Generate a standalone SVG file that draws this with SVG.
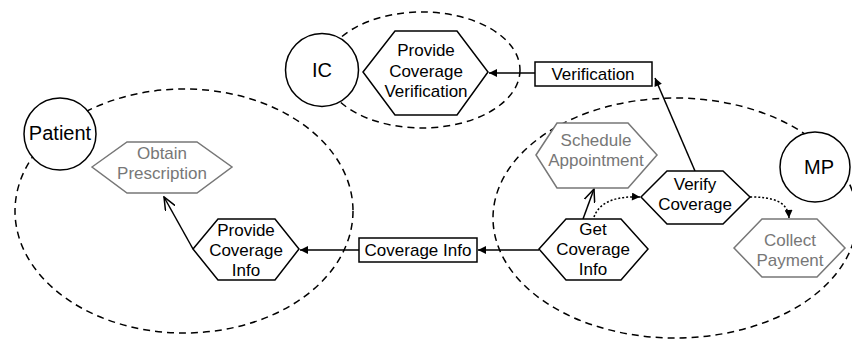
<svg xmlns="http://www.w3.org/2000/svg" width="852" height="339" viewBox="0 0 852 339">
<defs>
<style>
.bg{fill:#fff}
.scope{fill:none;stroke:#000;stroke-width:1.5;stroke-dasharray:7,5}
.actor{fill:#fff;stroke:#000;stroke-width:1.5}
.goal{fill:#fff;stroke:#000;stroke-width:1.5}
.goal.soft{stroke:#777}
.box{fill:#fff;stroke:#000;stroke-width:1.5}
text{font-family:"Liberation Sans",Arial,sans-serif;font-size:17px;fill:#000;text-anchor:middle}
.gray{fill:#777}
.big{font-size:20px}
.line{fill:none;stroke:#000;stroke-width:1.5}
.dot{fill:none;stroke:#000;stroke-width:1.5;stroke-dasharray:2,2}
</style>
<marker id="fill" viewBox="0 0 10 10" refX="10" refY="5" markerUnits="userSpaceOnUse" markerWidth="10" markerHeight="8" orient="auto">
<path d="M0,0 L10,5 L0,10 z" fill="#000"/>
</marker>
<marker id="open" viewBox="0 0 14 12" refX="13" refY="6" markerUnits="userSpaceOnUse" markerWidth="14" markerHeight="12" orient="auto">
<path d="M0,0.5 L13,6 L0,11.5" fill="none" stroke="#000" stroke-width="1.5"/>
</marker>
</defs>
<rect class="bg" x="0" y="0" width="852" height="339"/>
<g id="scopes">
<ellipse class="scope" cx="184" cy="211" rx="169" ry="122"/>
<ellipse class="scope" cx="422" cy="70" rx="98" ry="58"/>
<ellipse class="scope" cx="675" cy="218" rx="182" ry="120"/>
</g>
<g id="connectors">
<line class="line" x1="539" y1="250" x2="478" y2="250" marker-end="url(#fill)"/>
<line class="line" x1="359" y1="250" x2="300" y2="250" marker-end="url(#fill)"/>
<line class="line" x1="193" y1="249" x2="164" y2="197" marker-end="url(#open)"/>
<line class="line" x1="583" y1="219" x2="594" y2="189" marker-end="url(#open)"/>
<line class="line" x1="695" y1="171" x2="655" y2="78" marker-end="url(#fill)"/>
<line class="line" x1="535" y1="73" x2="489" y2="73" marker-end="url(#fill)"/>
<path class="dot" d="M594,217 C600,200 620,196 640,197" marker-end="url(#fill)"/>
<path class="dot" d="M750,197 C772,197 788,201 789,218" marker-end="url(#fill)"/>
</g>
<g id="patient">
<circle class="actor" cx="60" cy="134" r="36"/>
<text class="big" x="60" y="140">Patient</text>
</g>
<g id="ic">
<circle class="actor" cx="322" cy="70" r="36.5"/>
<text class="big" x="322" y="77">IC</text>
</g>
<g id="mp">
<circle class="actor" cx="815" cy="167" r="35"/>
<text class="big" x="819" y="174">MP</text>
</g>
<g id="obtain-prescription">
<polygon class="goal soft" points="92,167 127,142 197,142 232,167 197,193 127,193"/>
<text class="gray" x="162" y="159">Obtain</text>
<text class="gray" x="162" y="179">Prescription</text>
</g>
<g id="provide-coverage-info">
<polygon class="goal" points="193,249 218,219 275,219 299,249 275,280 218,280"/>
<text x="246" y="236">Provide</text>
<text x="246" y="256">Coverage</text>
<text x="246" y="276">Info</text>
</g>
<g id="provide-coverage-verification">
<polygon class="goal" points="363,72 395,31 457,31 488,72 457,115 395,115"/>
<text x="426" y="56">Provide</text>
<text x="426" y="77">Coverage</text>
<text x="426" y="97">Verification</text>
</g>
<g id="verification">
<rect class="box" x="535" y="62" width="117" height="24"/>
<text x="593" y="80">Verification</text>
</g>
<g id="coverage-info">
<rect class="box" x="359" y="238" width="118" height="24"/>
<text x="418" y="256">Coverage Info</text>
</g>
<g id="schedule-appointment">
<polygon class="goal soft" points="536,155 557,123 628,123 657,155 628,188 557,188"/>
<text class="gray" x="596" y="146">Schedule</text>
<text class="gray" x="596" y="166">Appointment</text>
</g>
<g id="verify-coverage">
<polygon class="goal" points="641,197 667,171 723,171 750,197 723,224 667,224"/>
<text x="695" y="190">Verify</text>
<text x="695" y="210">Coverage</text>
</g>
<g id="get-coverage-info">
<polygon class="goal" points="539,249 566,219 621,219 648,249 621,280 566,280"/>
<text x="593" y="235">Get</text>
<text x="593" y="255">Coverage</text>
<text x="593" y="275">Info</text>
</g>
<g id="collect-payment">
<polygon class="goal soft" points="734,248 762,219 817,219 845,248 817,277 762,277"/>
<text class="gray" x="790" y="246">Collect</text>
<text class="gray" x="790" y="266">Payment</text>
</g>
</svg>
